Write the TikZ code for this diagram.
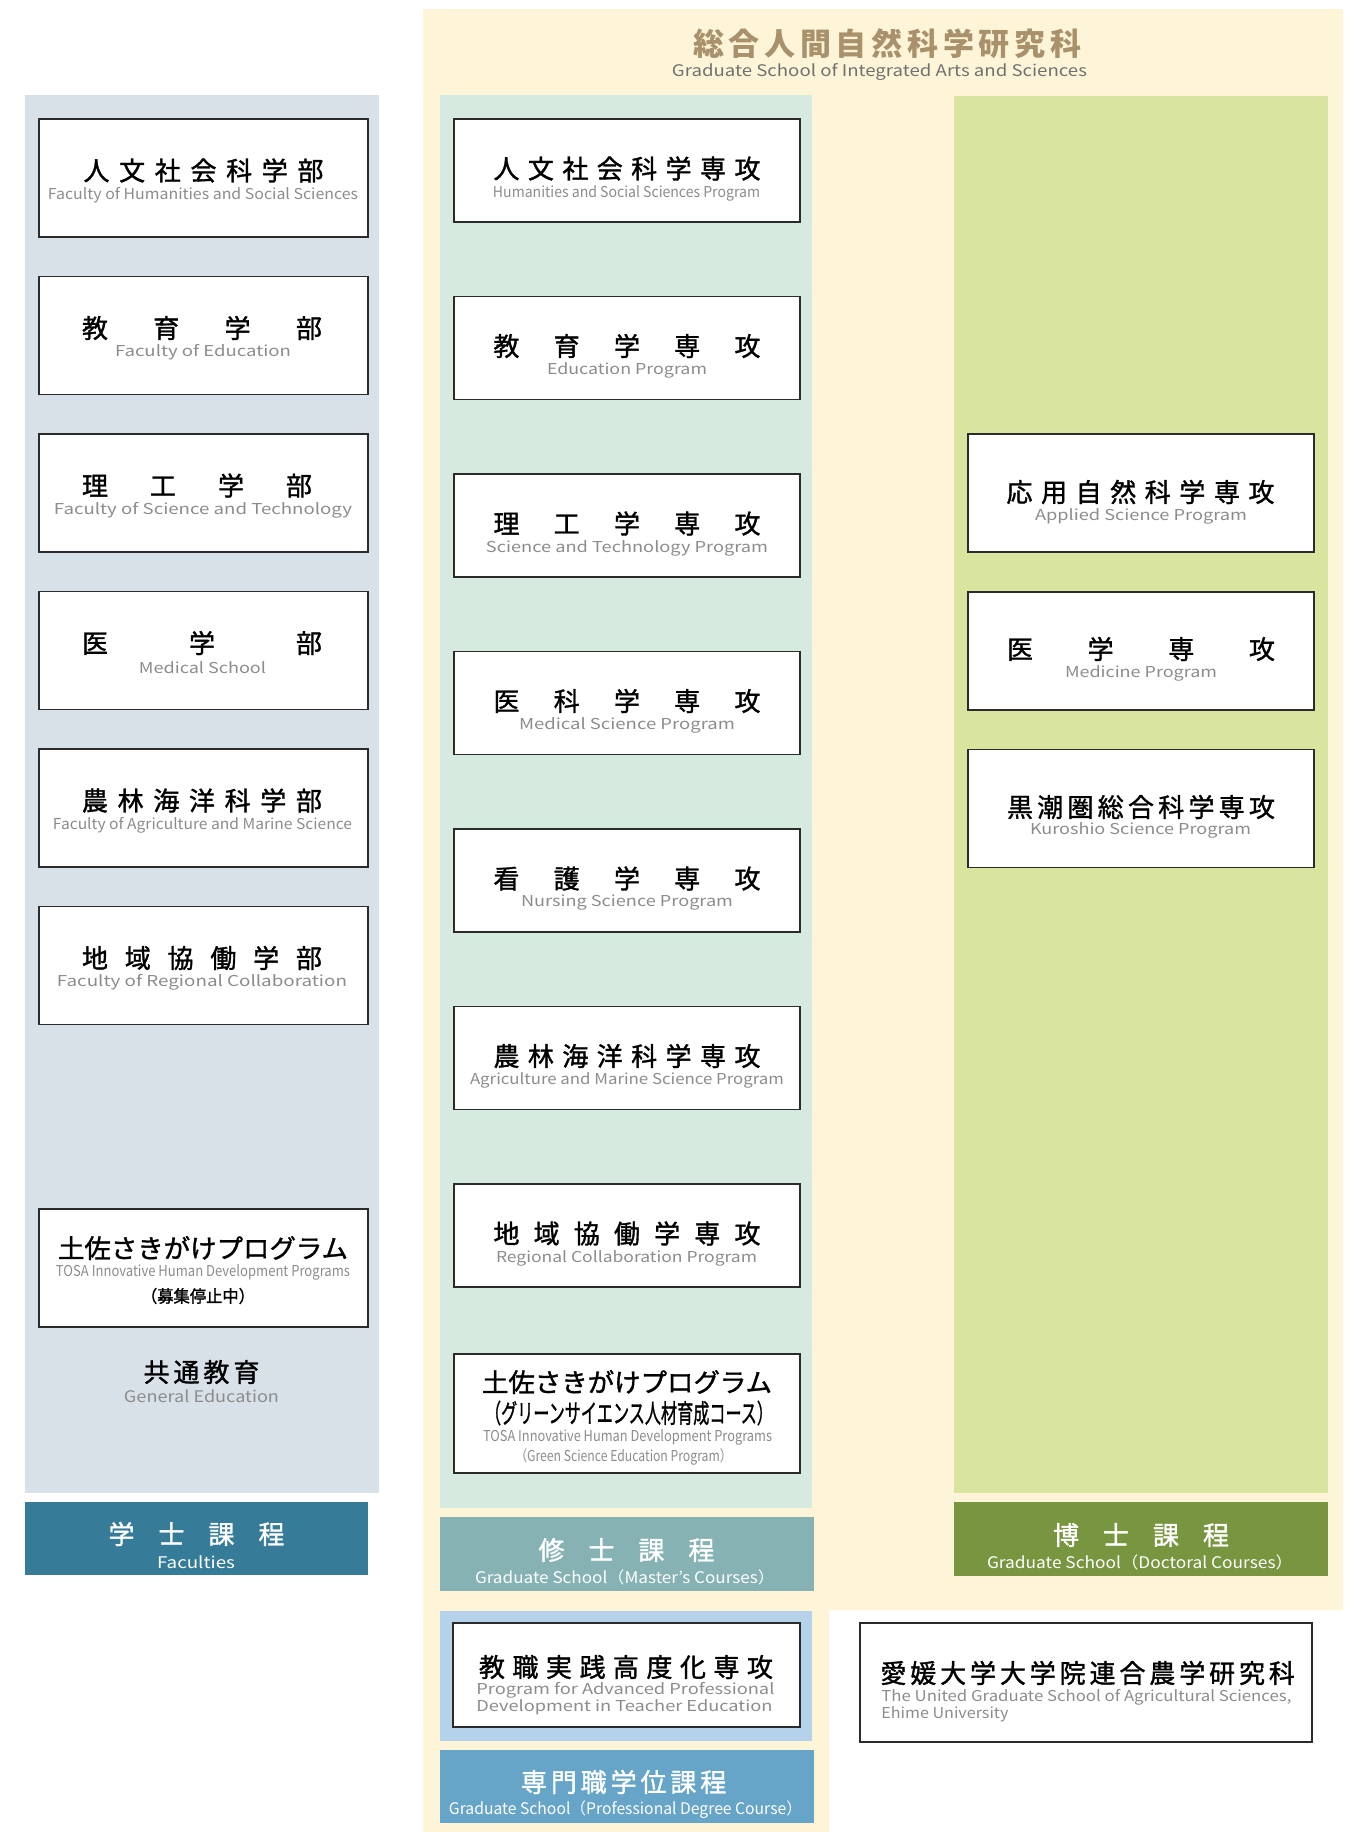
\documentclass[tikz,border=0pt]{standalone}
\usepackage{fontspec}
\setmainfont{Noto Sans CJK JP}
\newfontfamily\jpmid{Noto Sans CJK JP}[FakeBold=1.3]
\usepackage{graphicx}

\definecolor{cream}{HTML}{FEF5D8}
\definecolor{facpanel}{HTML}{D9E1E8}
\definecolor{mpanel}{HTML}{D6EADF}
\definecolor{dpanel}{HTML}{D9E59E}
\definecolor{ppanel}{HTML}{B4D3EA}
\definecolor{fbar}{HTML}{367B97}
\definecolor{mbar}{HTML}{86B2B4}
\definecolor{dbar}{HTML}{78963F}
\definecolor{pbar}{HTML}{66A4C8}
\definecolor{titletan}{HTML}{A8916B}
\definecolor{subgray}{HTML}{707070}
\definecolor{engray}{HTML}{8C8C8C}
\definecolor{boxline}{HTML}{2B2B2B}

\newcommand{\spread}[2]{\makebox[#1][s]{#2}}
\newcommand{\fitw}[2]{\resizebox{#1}{\height}{#2}}
\newcommand{\jpsize}{\fontsize{13pt}{15pt}\selectfont\jpmid}
\newcommand{\ensize}{\fontsize{7.5pt}{9pt}\selectfont}

\begin{document}
\begin{tikzpicture}[x=0.5pt,y=-0.5pt,
        fac box/.style={draw=boxline,line width=0.7pt,fill=white,inner sep=0pt,minimum width=164.5pt,minimum height=59pt},
        prog box/.style={fac box,minimum width=173pt,minimum height=51.5pt},
        doc box/.style={fac box,minimum width=173pt},
        jp/.style={inner sep=0pt,font=\jpsize},
        en/.style={inner sep=0pt,text=engray,font=\ensize},
        bar jp/.style={jp,text=white},
        bar en/.style={en,text=white,font=\fontsize{8pt}{10pt}\selectfont}]
        \fill [white] (0,0) rectangle (1348,1832);
        \useasboundingbox (0,0) rectangle (1348,1832);
        % panels
        \fill [cream] (423,9) -- (1343,9) -- (1343,1610) -- (829,1610) -- (829,1832) -- (423,1832) -- cycle;
        \fill [facpanel] (25,95) rectangle (379,1493);
        \fill [mpanel] (440,95) rectangle (812,1508);
        \fill [dpanel] (954,96) rectangle (1328,1493);
        \fill [ppanel] (440,1611) rectangle (812,1741);
        \fill [fbar] (25,1502) rectangle (368,1575);
        \fill [mbar] (440,1517) rectangle (814,1591);
        \fill [dbar] (954,1502) rectangle (1328,1576);
        \fill [pbar] (440,1750) rectangle (814,1823);
        % title
        \node [jp, text=titletan, font=\fontsize{15.5pt}{18pt}\selectfont\bfseries] (gs) at (883,44) {\spread{190pt}{総 合 人 間 自 然 科 学 研 究 科}};
        \node [en, text=subgray, font=\fontsize{8pt}{10pt}\selectfont] (gse) at (879.5,72) {\fitw{207.5pt}{Graduate School of Integrated Arts and Sciences}};
        % faculties
        \node [fac box] (hum) at (203.5,178) {};
        \node [jp] (humj) at (203.5,170.5) {\spread{120pt}{人 文 社 会 科 学 部}};
        \node [en] (hume) at (203,195) {\fitw{155pt}{Faculty of Humanities and Social Sciences}};
        \node [fac box] (edu) at (203.5,335.5) {};
        \node [jp] (eduj) at (202,328) {\spread{120pt}{教 育 学 部}};
        \node [en] (edue) at (203,352.5) {\fitw{88pt}{Faculty of Education}};
        \node [fac box] (sci) at (203.5,493) {};
        \node [jp] (scij) at (197,485.5) {\spread{115pt}{理 工 学 部}};
        \node [en] (scie) at (203,510) {\fitw{149pt}{Faculty of Science and Technology}};
        \node [fac box] (med) at (203.5,650.5) {};
        \node [jp] (medj) at (202,643) {\spread{120pt}{医 学 部}};
        \node [en] (mede) at (202.5,667.5) {\fitw{63.5pt}{Medical School}};
        \node [fac box] (agr) at (203.5,808) {};
        \node [jp] (agrj) at (202,800.5) {\spread{120pt}{農 林 海 洋 科 学 部}};
        \node [en] (agre) at (202.5,825) {\fitw{149.5pt}{Faculty of Agriculture and Marine Science}};
        \node [fac box] (reg) at (203.5,965.5) {};
        \node [jp] (regj) at (202,958) {\spread{120pt}{地 域 協 働 学 部}};
        \node [en] (rege) at (202,982.5) {\fitw{145pt}{Faculty of Regional Collaboration}};
        \node [fac box] (tosa) at (203.5,1268) {};
        \node [jp] (tosaj) at (203,1248) {\fitw{145pt}{土佐さきがけプログラム}};
        \node [en] (tosae) at (203,1272) {\fitw{147pt}{TOSA Innovative Human Development Programs}};
        \node [jp, font=\fontsize{8.5pt}{10pt}\selectfont\jpmid] (tosas) at (198,1296) {\fitw{57pt}{（募集停止中）}};
        \node [jp] (gen) at (201.5,1372) {\spread{58pt}{共 通 教 育}};
        \node [en, font=\fontsize{8pt}{10pt}\selectfont] (gene) at (201.5,1396) {\fitw{77.5pt}{General Education}};
        \node [bar jp] (bs) at (196.5,1534) {\spread{88pt}{学 士 課 程}};
        \node [bar en] (bse) at (196,1562) {\fitw{39pt}{Faculties}};
        % master's programs
        \node [prog box] (mhum) at (627,170.5) {};
        \node [jp] (mhumj) at (627,168.5) {\spread{133.5pt}{人 文 社 会 科 学 専 攻}};
        \node [en] (mhume) at (626.5,193) {\fitw{133.5pt}{Humanities and Social Sciences Program}};
        \node [prog box] (medu) at (627,348) {};
        \node [jp] (meduj) at (627,346) {\spread{133.5pt}{教 育 学 専 攻}};
        \node [en] (medue) at (627,370.5) {\fitw{80pt}{Education Program}};
        \node [prog box] (msci) at (627,525.5) {};
        \node [jp] (mscij) at (627,523.5) {\spread{133.5pt}{理 工 学 専 攻}};
        \node [en] (mscie) at (627,548) {\fitw{141pt}{Science and Technology Program}};
        \node [prog box] (mmed) at (627,703) {};
        \node [jp] (mmedj) at (627,701) {\spread{133.5pt}{医 科 学 専 攻}};
        \node [en] (mmede) at (627,725.5) {\fitw{108pt}{Medical Science Program}};
        \node [prog box] (mnur) at (627,880.5) {};
        \node [jp] (mnurj) at (627,878.5) {\spread{133.5pt}{看 護 学 専 攻}};
        \node [en] (mnure) at (627,903) {\fitw{106pt}{Nursing Science Program}};
        \node [prog box] (magr) at (627,1058) {};
        \node [jp] (magrj) at (627,1056) {\spread{133.5pt}{農 林 海 洋 科 学 専 攻}};
        \node [en] (magre) at (627,1080.5) {\fitw{157pt}{Agriculture and Marine Science Program}};
        \node [prog box] (mreg) at (627,1235.5) {};
        \node [jp] (mregj) at (627,1233.5) {\spread{133.5pt}{地 域 協 働 学 専 攻}};
        \node [en] (mrege) at (626.5,1258) {\fitw{130.5pt}{Regional Collaboration Program}};
        \node [prog box, minimum height=59.5pt] (mtosa) at (627,1413.5) {};
        \node [jp] (mtosaj) at (627,1382) {\fitw{145pt}{土佐さきがけプログラム}};
        \node [jp] (mtosak) at (629,1413) {\fitw{144pt}{（グリーンサイエンス人材育成コース）}};
        \node [en] (mtosae) at (627.5,1437) {\fitw{144.5pt}{TOSA Innovative Human Development Programs}};
        \node [en] (mtosaf) at (623.5,1457) {\fitw{108.5pt}{（Green Science Education Program）}};
        \node [bar jp] (ms) at (626.5,1550) {\spread{88pt}{修 士 課 程}};
        \node [bar en] (mse) at (625,1577) {\fitw{150pt}{Graduate School（Master's Courses）}};
        % professional degree
        \node [prog box, minimum width=173.5pt, minimum height=52pt] (pro) at (626.5,1675) {};
        \node [jp] (proj) at (626,1667) {\spread{147pt}{教 職 実 践 高 度 化 専 攻}};
        \node [en, anchor=west] (proe) at (476,1690) {\fitw{149pt}{Program for Advanced Professional}};
        \node [en, anchor=west] (prof) at (476,1707) {\fitw{148pt}{Development in Teacher Education}};
        \node [bar jp] (ps) at (623.5,1782) {\spread{102.5pt}{専 門 職 学 位 課 程}};
        \node [bar en] (pse) at (625.5,1810) {\fitw{176.5pt}{Graduate School（Professional Degree Course）}};
        % doctoral programs
        \node [doc box] (dapp) at (1141,493) {};
        \node [jp] (dappj) at (1140.5,492) {\spread{134pt}{応 用 自 然 科 学 専 攻}};
        \node [en] (dappe) at (1141,516) {\fitw{106pt}{Applied Science Program}};
        \node [doc box] (dmed) at (1141,651) {};
        \node [jp] (dmedj) at (1141,649) {\spread{134pt}{医 学 専 攻}};
        \node [en] (dmede) at (1141,673) {\fitw{76pt}{Medicine Program}};
        \node [doc box] (dkur) at (1141,808.5) {};
        \node [jp] (dkurj) at (1141,807) {\spread{134pt}{黒 潮 圏 総 合 科 学 専 攻}};
        \node [en] (dkure) at (1140.5,830) {\fitw{110.5pt}{Kuroshio Science Program}};
        \node [bar jp] (ds) at (1141,1535) {\spread{88pt}{博 士 課 程}};
        \node [bar en] (dse) at (1140,1562) {\fitw{153pt}{Graduate School（Doctoral Courses）}};
        % Ehime
        \node [fac box, minimum width=226pt, minimum height=59.5pt] (ehi) at (1086,1682.5) {};
        \node [jp, anchor=west] (ehij) at (880,1673) {\spread{205.5pt}{愛 媛 大 学 大 学 院 連 合 農 学 研 究 科}};
        \node [en, anchor=west] (ehie) at (881,1697) {\fitw{205pt}{The United Graduate School of Agricultural Sciences,}};
        \node [en, anchor=west] (ehif) at (881,1714) {\fitw{63.5pt}{Ehime University}};
    \end{tikzpicture}
\end{document}
